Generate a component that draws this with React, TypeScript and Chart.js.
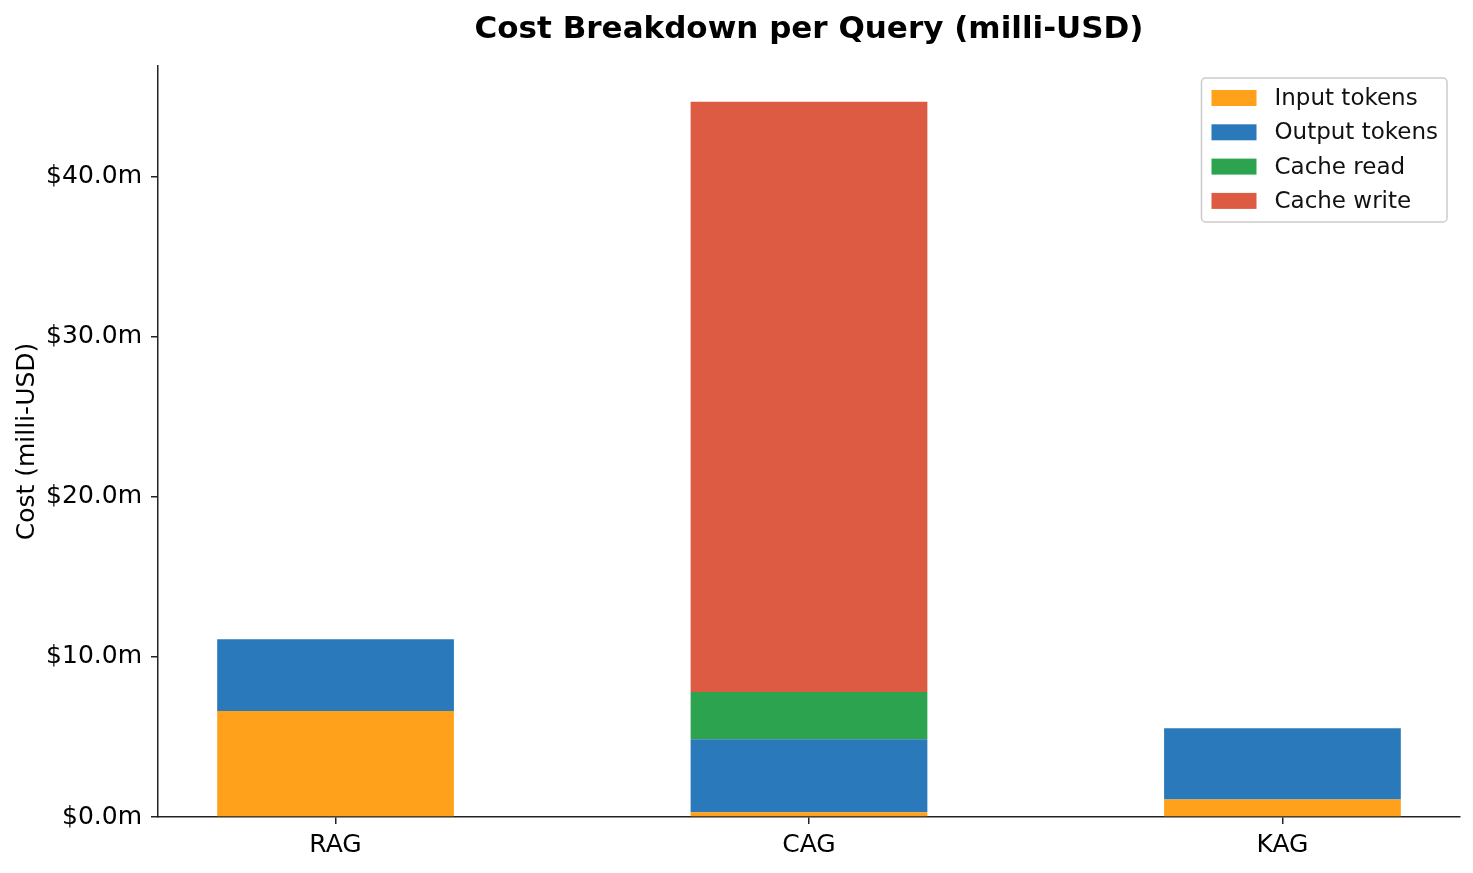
import React, { useEffect, useRef } from "react";
import { Chart, registerables } from "chart.js";

Chart.register(...registerables);

const categories = ["RAG", "CAG", "KAG"];
const inputTokens = [6.62, 0.29, 1.1];
const outputTokens = [4.48, 4.57, 4.44];
const cacheRead = [0, 2.95, 0];
const cacheWrite = [0, 36.86, 0];
const yTicks = [0, 10, 20, 30, 40];

const seriesNames = ["Input tokens", "Output tokens", "Cache read", "Cache write"];
const seriesColors = ["#FFA11A", "#2A79BA", "#2CA34E", "#DC5B42"];

const FONT = "'DejaVu Sans', sans-serif";

const titlePlugin = {
    id: "centeredTitle",
    afterDraw(chart) {
        const { ctx, chartArea } = chart;
        ctx.save();
        ctx.font = `bold 31px ${FONT}`;
        ctx.fillStyle = "#000";
        ctx.textAlign = "center";
        ctx.textBaseline = "alphabetic";
        ctx.fillText("Cost Breakdown per Query (milli-USD)", (chartArea.left + chartArea.right) / 2, 38);
        ctx.restore();
    },
};

const boxLegendPlugin = {
    id: "boxLegend",
    afterDraw(chart) {
        const { ctx, chartArea } = chart;
        const sets = chart.data.datasets;
        ctx.save();
        ctx.font = `23px ${FONT}`;
        const maxW = Math.max(...sets.map((d) => ctx.measureText(d.label).width));
        const w = 73 + maxW + 9;
        const h = 144;
        const x = chartArea.right - 13 - w;
        const y = chartArea.top + 12;

        ctx.beginPath();
        ctx.roundRect(x, y, w, h, 4);
        ctx.fillStyle = "rgba(255,255,255,0.8)";
        ctx.fill();
        ctx.lineWidth = 1.5;
        ctx.strokeStyle = "#cccccc";
        ctx.stroke();

        sets.forEach((d, i) => {
            const cy = y + 20 + i * 34.3;
            ctx.fillStyle = d.backgroundColor;
            ctx.fillRect(x + 10, cy - 8, 45, 16);
            ctx.fillStyle = "#111";
            ctx.textAlign = "left";
            ctx.textBaseline = "middle";
            ctx.fillText(d.label, x + 73, cy + 1);
        });
        ctx.restore();
    },
};

const App = () => {
    const chartRef = useRef(null);
    const chartInstance = useRef(null);

    useEffect(() => {
        document.body.style.margin = "0";
        if (chartInstance.current) {
            chartInstance.current.destroy();
        }

        const values = [inputTokens, outputTokens, cacheRead, cacheWrite];
        const totals = categories.map((_, i) => values.reduce((s, arr) => s + arr[i], 0));

        const ctx = chartRef.current.getContext("2d");
        chartInstance.current = new Chart(ctx, {
            type: "bar",
            data: {
                datasets: values.map((arr, k) => ({
                    label: seriesNames[k],
                    data: arr.map((v, i) => ({ x: i, y: v })),
                    backgroundColor: seriesColors[k],
                    borderWidth: 0,
                    categoryPercentage: 1,
                    barPercentage: 0.5,
                })),
            },
            options: {
                responsive: true,
                maintainAspectRatio: false,
                animation: false,
                layout: { padding: { top: 66, right: 13, left: 0, bottom: 0 } },
                plugins: {
                    legend: { display: false },
                    title: { display: false },
                    tooltip: { enabled: false },
                },
                scales: {
                    x: {
                        type: "linear",
                        stacked: true,
                        offset: false,
                        min: -0.375,
                        max: categories.length - 1 + 0.375,
                        afterBuildTicks: (scale) => {
                            scale.ticks = categories.map((_, i) => ({ value: i }));
                        },
                        afterFit: (scale) => {
                            scale.height = 56;
                        },
                        ticks: {
                            callback: (v) => categories[v] ?? "",
                            color: "#000",
                            font: { family: FONT, size: 25 },
                            padding: 6,
                            maxRotation: 0,
                            autoSkip: false,
                        },
                        grid: { offset: false, drawOnChartArea: false, drawTicks: true, tickLength: 7, color: "#222", lineWidth: 1.5 },
                        border: { display: true, color: "#222", width: 1.5 },
                    },
                    y: {
                        stacked: true,
                        min: 0,
                        max: Math.max(...totals) * 1.05,
                        afterBuildTicks: (scale) => {
                            scale.ticks = yTicks.map((v) => ({ value: v }));
                        },
                        afterFit: (scale) => {
                            scale.width = 158;
                        },
                        ticks: {
                            callback: (v) => `$${Number(v).toFixed(1)}m`,
                            color: "#000",
                            font: { family: FONT, size: 25 },
                            padding: 9,
                        },
                        title: {
                            display: true,
                            text: "Cost (milli-USD)",
                            color: "#000",
                            font: { family: FONT, size: 25 },
                            padding: { top: 12, bottom: 0 },
                        },
                        grid: { drawOnChartArea: false, drawTicks: true, tickLength: 7, color: "#222", lineWidth: 1.5 },
                        border: { display: true, color: "#222", width: 1.5 },
                    },
                },
            },
            plugins: [titlePlugin, boxLegendPlugin],
        });

        return () => {
            if (chartInstance.current) {
                chartInstance.current.destroy();
                chartInstance.current = null;
            }
        };
    }, []);

    return (
        <div style={{ position: "fixed", left: 0, top: 0, width: "1473px", height: "873px", background: "#fff" }}>
            <canvas ref={chartRef} />
        </div>
    );
};

export default App;
